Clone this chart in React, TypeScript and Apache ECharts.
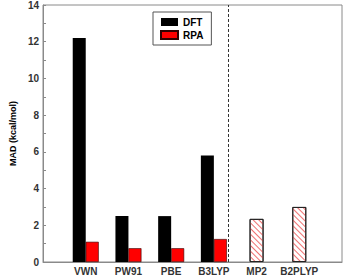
import React, { useEffect, useRef } from "react";
import * as echarts from "echarts";

const categories = ["VWN", "PW91", "PBE", "B3LYP", "MP2", "B2PLYP"];
const dftValues = [12.2, 2.5, 2.5, 5.8];
const rpaValues = [1.1, 0.75, 0.75, 1.25];
const otherValues = [2.35, 3.0];
const yTicks = [0, 2, 4, 6, 8, 10, 12, 14];

export default function App() {
  const ref = useRef<HTMLDivElement>(null);
  useEffect(() => {
    const chart = echarts.init(ref.current!, null, { renderer: "svg" });
    const font = "Arial, 'Liberation Sans', sans-serif";
    chart.setOption({
      animation: false,
      grid: { left: 27, right: 4, top: 5, bottom: 15, show: true, borderColor: "#8a8a8a", borderWidth: 1 },
      legend: {
        data: ["DFT", "RPA"],
        orient: "vertical",
        left: 153,
        top: 12,
        icon: "rect",
        itemWidth: 17,
        itemHeight: 8,
        itemGap: 3,
        padding: [5, 8, 5, 7],
        borderColor: "#555",
        borderWidth: 1,
        textStyle: { fontFamily: font, fontWeight: "bold", fontSize: 10, color: "#000" },
      },
      xAxis: [
        {
          type: "value",
          min: 0,
          max: 7,
          interval: 1,
          splitLine: { show: false },
          axisTick: { show: false },
          axisLine: { lineStyle: { color: "#8a8a8a" } },
          axisLabel: {
            fontFamily: font,
            fontWeight: "bold",
            fontSize: 10,
            color: "#333",
            margin: 4,
            formatter: (v: number) => (v >= 1 && v <= 6 ? categories[v - 1] : ""),
          },
        },
        { type: "value", min: 0, max: 7, show: false },
      ],
      yAxis: {
        type: "value",
        min: yTicks[0],
        max: yTicks[yTicks.length - 1],
        interval: 2,
        name: "MAD (kcal/mol)",
        nameLocation: "middle",
        nameGap: 18,
        nameTextStyle: { fontFamily: font, fontWeight: "bold", fontSize: 9, color: "#000" },
        splitLine: { show: false },
        axisLine: { show: true, lineStyle: { color: "#8a8a8a" } },
        axisTick: { show: true, inside: true, length: 3, lineStyle: { color: "#8a8a8a" } },
        minorTick: { show: true, splitNumber: 2, length: 3, lineStyle: { color: "#8a8a8a" } },
        axisLabel: { fontFamily: font, fontWeight: "bold", fontSize: 10, color: "#333", margin: 4 },
      },
      series: [
        {
          name: "DFT",
          type: "bar",
          xAxisIndex: 0,
          barWidth: 13,
          barGap: "0%",
          itemStyle: { color: "#000" },
          data: dftValues.map((v, i) => [i + 1, v]),
          markLine: {
            silent: true,
            symbol: "none",
            label: { show: false },
            lineStyle: { color: "#333", type: [3, 2], width: 1 },
            data: [{ xAxis: 4.5 }],
          },
        },
        {
          name: "RPA",
          type: "bar",
          xAxisIndex: 0,
          barWidth: 13,
          barGap: "0%",
          itemStyle: { color: "#ff0000", borderColor: "#300", borderWidth: 0.6 },
          data: rpaValues.map((v, i) => [i + 1, v]),
        },
        {
          name: "Other",
          type: "bar",
          xAxisIndex: 1,
          barWidth: 14,
          itemStyle: {
            color: "#fff",
            borderColor: "#222",
            borderWidth: 1,
            decal: {
              symbol: "rect",
              symbolSize: 1,
              dashArrayX: [1, 0],
              dashArrayY: [0.8, 2.2],
              rotation: Math.PI / 4,
              color: "#f07070",
              backgroundColor: "#fff",
            },
          },
          data: otherValues.map((v, i) => [i + 5, v]),
        },
      ],
    });
    return () => chart.dispose();
  }, []);
  return (
    <div
      ref={ref}
      style={{ position: "fixed", left: 0, top: 0, width: 346, height: 277, background: "#fff" }}
    />
  );
}
